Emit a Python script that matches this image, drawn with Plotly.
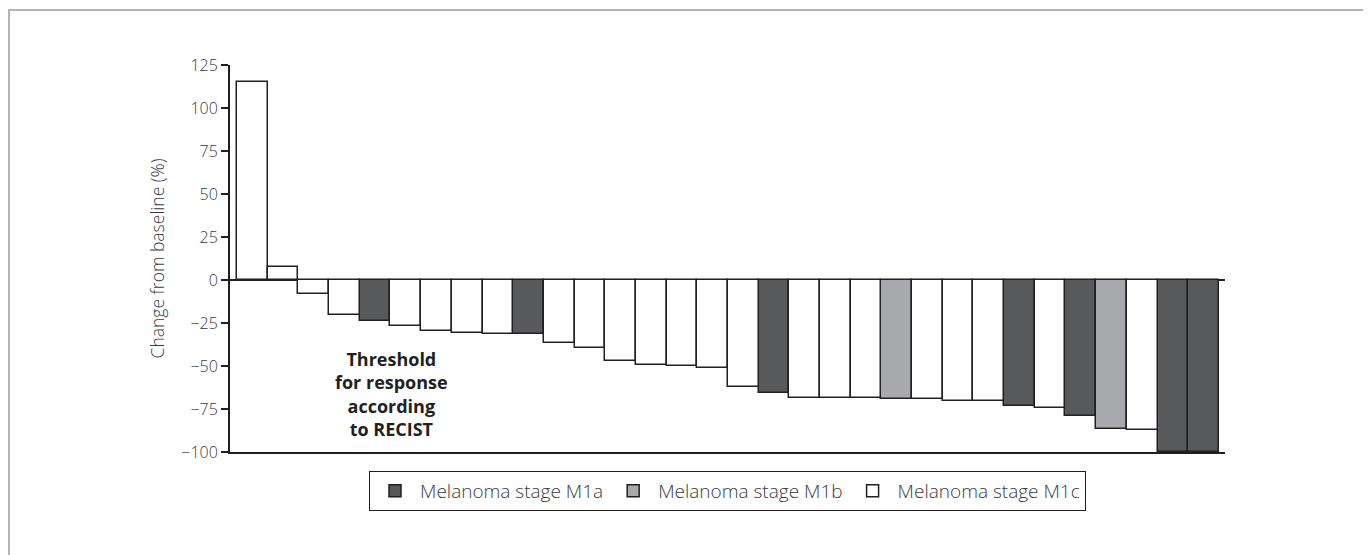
import plotly.graph_objects as go

# ---- data ----
values = [115.3, 7.7, -8.2, -20.4, -23.7, -26.8, -29.9, -30.7, -31.4, -31.6,
          -36.9, -39.4, -47.2, -49.5, -50.1, -51.1, -62.1, -65.6, -68.5, -68.5,
          -68.5, -69.3, -69.0, -70.5, -70.5, -73.0, -74.7, -79.0, -86.4, -87.4,
          -100.0, -100.0]
stages = ["M1c", "M1c", "M1c", "M1c", "M1a", "M1c", "M1c", "M1c", "M1c", "M1a",
          "M1c", "M1c", "M1c", "M1c", "M1c", "M1c", "M1c", "M1a", "M1c", "M1c",
          "M1c", "M1b", "M1c", "M1c", "M1c", "M1a", "M1c", "M1a", "M1b", "M1c",
          "M1a", "M1a"]
stage_names = ["M1a", "M1b", "M1c"]
stage_labels = ["Melanoma stage M1a", "Melanoma stage M1b", "Melanoma stage M1c"]
stage_colors = ["#58595b", "#a7a9ac", "#ffffff"]
y_ticks = [125, 100, 75, 50, 25, 0, -25, -50, -75, -100]
y_ticktext = ["125", "100", "75", "50", "25", "0", "\u221225", "\u221250", "\u221275", "\u2212100"]
annotation_text = "Threshold<br>for response<br>according<br>to RECIST"
y_title = "Change from baseline (%)"

TEXT = "#3a3a3c"
LINE = "#231f20"
FONT = "Open Sans"

fig = go.Figure()
for name, label, color in zip(stage_names, stage_labels, stage_colors):
    xs = [i for i, s in enumerate(stages) if s == name]
    ys = [values[i] for i in xs]
    fig.add_trace(go.Bar(
        x=xs, y=ys, name=label, width=1,
        marker=dict(color=color, line=dict(color=LINE, width=1.5)),
    ))

W, H = 1371, 555
OFF = 8  # page offset of the figure
ml, mr, mt, mb = 222, 154, 57, 111
pw, ph = W - ml - mr, H - mt - mb

def px_x(p):
    return (p - OFF - ml) / pw

def px_y(p):
    return (H - mb - (p - OFF)) / ph

fig.update_layout(
    width=W, height=H,
    margin=dict(l=ml, r=mr, t=mt, b=mb, autoexpand=False),
    paper_bgcolor="white", plot_bgcolor="white",
    barmode="overlay", bargap=0,
    font=dict(family=FONT, size=15, color=TEXT, weight=300),
    showlegend=True,
    legend=dict(
        orientation="h", x=0.5, xanchor="center", y=px_y(471), yanchor="top",
        bordercolor=LINE, borderwidth=1,
        font=dict(size=19, color=TEXT, family=FONT, weight=300),
        itemwidth=40, traceorder="normal", itemclick=False,
    ),
    xaxis=dict(
        range=[-0.73, 31.7], showgrid=False, zeroline=False,
        showticklabels=False, ticks="", showline=True, linecolor=LINE,
        linewidth=2, fixedrange=True,
    ),
    yaxis=dict(
        range=[-100, 125], tickvals=y_ticks, ticktext=y_ticktext,
        showgrid=False, zeroline=True, zerolinecolor=LINE, zerolinewidth=2,
        showline=True, linecolor=LINE, linewidth=2, ticks="outside",
        ticklen=7, tickwidth=1.5, tickcolor=LINE,
        tickfont=dict(size=16, color=TEXT, family=FONT, weight=300),
        title=dict(text=y_title, font=dict(size=17.5, color=TEXT, family=FONT, weight=300),
                   standoff=12),
        automargin=False, fixedrange=True,
    ),
    annotations=[dict(
        text="<b>" + annotation_text + "</b>", x=px_x(333), xref="paper",
        y=-66, yref="y", showarrow=False, align="center",
        font=dict(size=18, color="#231f20", family=FONT),
    )],
    shapes=[dict(
        type="rect", xref="paper", yref="paper",
        x0=px_x(9), x1=px_x(1366), y0=px_y(620), y1=px_y(10),
        line=dict(color="#b4b4b4", width=2), fillcolor="rgba(0,0,0,0)",
        layer="below",
    )],
)

fig.write_html("out.html")
